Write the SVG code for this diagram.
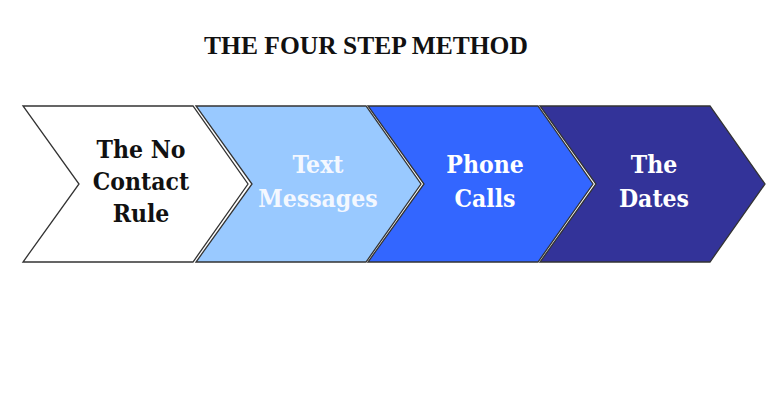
<svg xmlns="http://www.w3.org/2000/svg" width="770" height="413" viewBox="0 0 770 413">
<style>
.chev{stroke:#333;stroke-width:1.3;stroke-linejoin:miter}
.lbl{font-family:"DejaVu Serif Condensed","DejaVu Serif",serif;font-stretch:condensed;font-weight:bold;font-size:24.5px;text-anchor:middle}
.title{font-family:"Liberation Serif","Times New Roman",serif;font-weight:bold;font-size:25.5px;text-anchor:middle;fill:#111}
</style>
<rect width="770" height="413" fill="#ffffff"/>
<text class="title" x="366" y="54">THE FOUR STEP METHOD</text>
<g id="connectors"></g>
<g id="node1">
<path class="chev" d="M23,106 L193,106 L248,184 L193,262 L23,262 L79,184 Z" fill="#ffffff"/>
<text class="lbl" fill="#111" x="141" y="158">The No</text>
<text class="lbl" fill="#111" x="141" y="190">Contact</text>
<text class="lbl" fill="#111" x="141" y="222">Rule</text>
</g>
<g id="node2">
<path class="chev" d="M196,106 L366,106 L421,184 L366,262 L196,262 L252,184 Z" fill="#99c9ff"/>
<text class="lbl" fill="#f4f8ff" x="318" y="173">Text</text>
<text class="lbl" fill="#f4f8ff" x="318" y="207">Messages</text>
</g>
<g id="node3">
<path class="chev" d="M368,106 L538,106 L593,184 L538,262 L368,262 L424,184 Z" fill="#3366ff"/>
<text class="lbl" fill="#ffffff" x="485" y="173">Phone</text>
<text class="lbl" fill="#ffffff" x="485" y="207">Calls</text>
</g>
<g id="node4">
<path class="chev" d="M540,106 L710,106 L765,184 L710,262 L540,262 L596,184 Z" fill="#333399"/>
<text class="lbl" fill="#ffffff" x="654" y="173">The</text>
<text class="lbl" fill="#ffffff" x="654" y="207">Dates</text>
</g>
</svg>
